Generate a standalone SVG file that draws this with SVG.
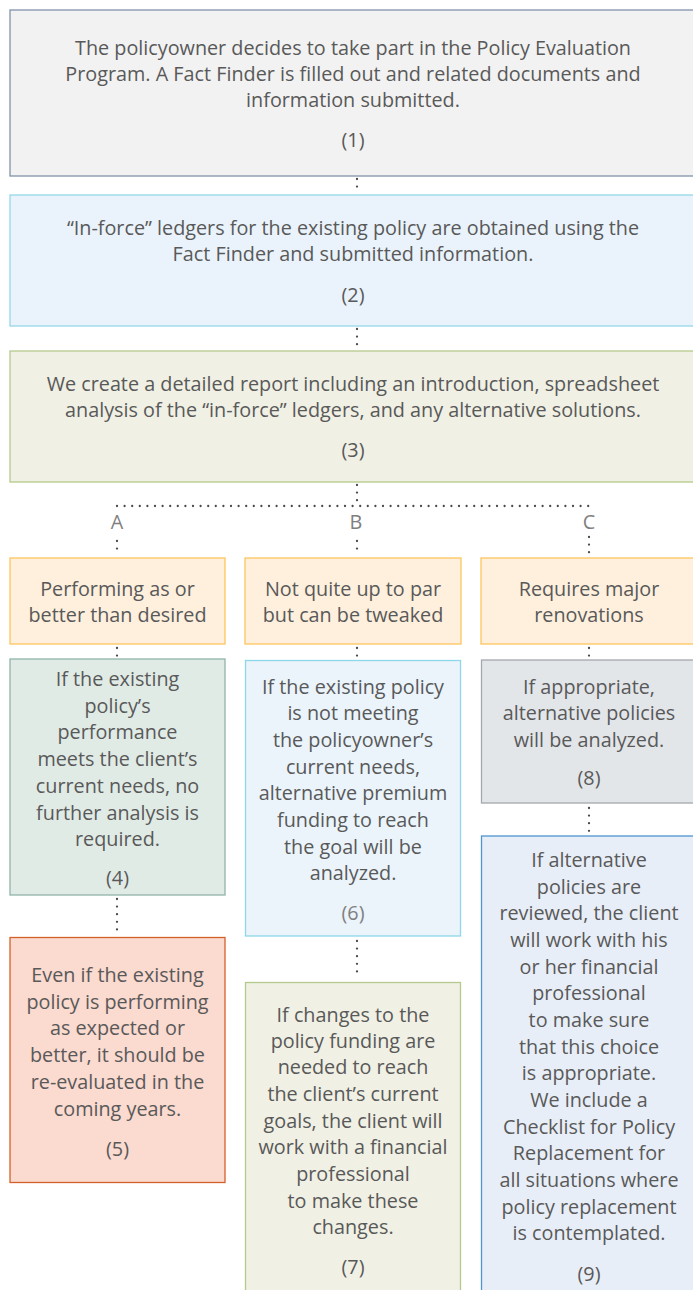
<svg xmlns="http://www.w3.org/2000/svg" width="693" height="1290" viewBox="0 0 693 1290">
  <style>
    .t { font-family: "Open Sans", "Noto Sans", sans-serif; font-size: 19.8px; fill: #595959; text-anchor: middle; }
    .lbl { font-family: "Open Sans", "Noto Sans", sans-serif; font-size: 19.8px; fill: #7f7f7f; text-anchor: middle; }
    .dot { fill: none; stroke: #4a4a4a; stroke-width: 2.3; stroke-linecap: round; stroke-dasharray: 0 7.6; }
    .box { stroke-width: 1.3; }
  </style>
  <rect width="693" height="1290" fill="#ffffff"/>

  <!-- connectors -->
  <g id="connectors">
    <path class="dot" d="M357 179 V193"/>
    <path class="dot" d="M357 329 V348"/>
    <path class="dot" d="M357 485 V506"/>
    <path class="dot" d="M117 506 H593"/>
    <path class="dot" d="M117 541 V556"/>
    <path class="dot" d="M357 541 V556"/>
    <path class="dot" d="M589 537 V556"/>
    <path class="dot" d="M117 648 V658"/>
    <path class="dot" d="M357 648 V658"/>
    <path class="dot" d="M589 648 V658"/>
    <path class="dot" d="M117 899 V936"/>
    <path class="dot" d="M357 941 V972"/>
    <path class="dot" d="M589 808 V834"/>
  </g>

  <!-- step 1 -->
  <g id="node1">
    <rect class="box" x="10" y="10" width="700" height="166" fill="#f2f2f2" stroke="#8092aa"/>
    <text class="t" x="353" y="55">The policyowner decides to take part in the Policy Evaluation</text>
    <text class="t" x="353" y="81">Program. A Fact Finder is filled out and related documents and</text>
    <text class="t" x="353" y="107">information submitted.</text>
    <text class="t" x="353" y="147">(1)</text>
  </g>

  <!-- step 2 -->
  <g id="node2">
    <rect class="box" x="10" y="195" width="700" height="131" fill="#eaf3fb" stroke="#95d8e9"/>
    <text class="t" x="353" y="235">“In-force” ledgers for the existing policy are obtained using the</text>
    <text class="t" x="353" y="261">Fact Finder and submitted information.</text>
    <text class="t" x="353" y="302">(2)</text>
  </g>

  <!-- step 3 -->
  <g id="node3">
    <rect class="box" x="10" y="351" width="700" height="131" fill="#f0f0e4" stroke="#b4c98c"/>
    <text class="t" x="353" y="391">We create a detailed report including an introduction, spreadsheet</text>
    <text class="t" x="353" y="417">analysis of the “in-force” ledgers, and any alternative solutions.</text>
    <text class="t" x="353" y="457">(3)</text>
  </g>

  <!-- branch labels -->
  <g id="branch-labels">
    <text class="lbl" x="117" y="529">A</text>
    <text class="lbl" x="356" y="529">B</text>
    <text class="lbl" x="589" y="529">C</text>
  </g>

  <!-- branch headers -->
  <g id="branchA">
    <rect class="box" x="10" y="558" width="215" height="86" fill="#fef0dd" stroke="#fdc55e"/>
    <text class="t" x="117.5" y="596">Performing as or</text>
    <text class="t" x="117.5" y="622">better than desired</text>
  </g>
  <g id="branchB">
    <rect class="box" x="245" y="558" width="216" height="86" fill="#fef0dd" stroke="#fdc55e"/>
    <text class="t" x="353" y="596">Not quite up to par</text>
    <text class="t" x="353" y="622">but can be tweaked</text>
  </g>
  <g id="branchC">
    <rect class="box" x="481" y="558" width="230" height="86" fill="#fef0dd" stroke="#fdc55e"/>
    <text class="t" x="589" y="596">Requires major</text>
    <text class="t" x="589" y="622">renovations</text>
  </g>

  <!-- step 4 -->
  <g id="node4">
    <rect class="box" x="10" y="659" width="215" height="236" fill="#e1ebe6" stroke="#8fb4a8"/>
    <text class="t" x="117.5" y="686">If the existing</text>
    <text class="t" x="117.5" y="712.7">policy’s</text>
    <text class="t" x="117.5" y="739.4">performance</text>
    <text class="t" x="117.5" y="766.1">meets the client’s</text>
    <text class="t" x="117.5" y="792.8">current needs, no</text>
    <text class="t" x="117.5" y="819.5">further analysis is</text>
    <text class="t" x="117.5" y="846.2">required.</text>
    <text class="t" x="117.5" y="885">(4)</text>
  </g>

  <!-- step 5 -->
  <g id="node5">
    <rect class="box" x="10" y="937.5" width="215" height="245" fill="#fbdad0" stroke="#d4602a"/>
    <text class="t" x="117.5" y="982">Even if the existing</text>
    <text class="t" x="117.5" y="1008.7">policy is performing</text>
    <text class="t" x="117.5" y="1035.4">as expected or</text>
    <text class="t" x="117.5" y="1062.1">better, it should be</text>
    <text class="t" x="117.5" y="1088.8">re-evaluated in the</text>
    <text class="t" x="117.5" y="1115.5">coming years.</text>
    <text class="t" x="117.5" y="1156">(5)</text>
  </g>

  <!-- step 6 -->
  <g id="node6">
    <rect class="box" x="245.5" y="660.5" width="215" height="275.5" fill="#ebf4fb" stroke="#8dd7ea"/>
    <text class="t" x="353" y="693.7">If the existing policy</text>
    <text class="t" x="353" y="720.3">is not meeting</text>
    <text class="t" x="353" y="747">the policyowner’s</text>
    <text class="t" x="353" y="773.7">current needs,</text>
    <text class="t" x="353" y="800.3">alternative premium</text>
    <text class="t" x="353" y="827">funding to reach</text>
    <text class="t" x="353" y="853.7">the goal will be</text>
    <text class="t" x="353" y="880.3">analyzed.</text>
    <text class="t" x="353" y="920" style="fill:#808080">(6)</text>
  </g>

  <!-- step 7 -->
  <g id="node7">
    <rect class="box" x="245.5" y="982.5" width="215" height="330" fill="#f0f0e4" stroke="#b4c98c"/>
    <text class="t" x="353" y="1022">If changes to the</text>
    <text class="t" x="353" y="1047.7">policy funding are</text>
    <text class="t" x="353" y="1074.3">needed to reach</text>
    <text class="t" x="353" y="1101">the client’s current</text>
    <text class="t" x="353" y="1127.7">goals, the client will</text>
    <text class="t" x="353" y="1154.3">work with a financial</text>
    <text class="t" x="353" y="1181">professional</text>
    <text class="t" x="353" y="1207.7">to make these</text>
    <text class="t" x="353" y="1234.3">changes.</text>
    <text class="t" x="353" y="1274">(7)</text>
  </g>

  <!-- step 8 -->
  <g id="node8">
    <rect class="box" x="481.5" y="660" width="230" height="143" fill="#e3e6e9" stroke="#a4a7ab"/>
    <text class="t" x="589" y="693.7">If appropriate,</text>
    <text class="t" x="589" y="720.3">alternative policies</text>
    <text class="t" x="589" y="747">will be analyzed.</text>
    <text class="t" x="589" y="785">(8)</text>
  </g>

  <!-- step 9 -->
  <g id="node9">
    <rect class="box" x="481.5" y="836" width="230" height="480" fill="#e8eef7" stroke="#4f95d0"/>
    <text class="t" x="589" y="867">If alternative</text>
    <text class="t" x="589" y="893.7">policies are</text>
    <text class="t" x="589" y="920.3">reviewed, the client</text>
    <text class="t" x="589" y="947">will work with his</text>
    <text class="t" x="589" y="973.7">or her financial</text>
    <text class="t" x="589" y="1000.3">professional</text>
    <text class="t" x="589" y="1027">to make sure</text>
    <text class="t" x="589" y="1053.7">that this choice</text>
    <text class="t" x="589" y="1080.3">is appropriate.</text>
    <text class="t" x="589" y="1107">We include a</text>
    <text class="t" x="589" y="1133.7">Checklist for Policy</text>
    <text class="t" x="589" y="1160.3">Replacement for</text>
    <text class="t" x="589" y="1187">all situations where</text>
    <text class="t" x="589" y="1213.7">policy replacement</text>
    <text class="t" x="589" y="1240.3">is contemplated.</text>
    <text class="t" x="589" y="1281">(9)</text>
  </g>
</svg>
